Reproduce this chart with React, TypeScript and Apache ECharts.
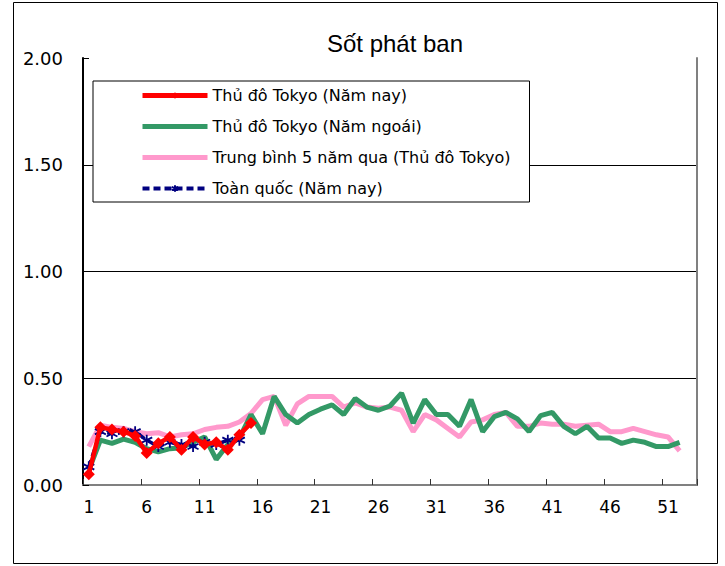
import React, { useEffect, useRef } from "react";
import * as echarts from "echarts";

const weeks: string[] = Array.from({ length: 53 }, (_, i) => String(i + 1));

const seriesNames = [
  "Thủ đô Tokyo (Năm nay)",
  "Thủ đô Tokyo (Năm ngoái)",
  "Trung bình 5 năm qua (Thủ đô Tokyo)",
  "Toàn quốc (Năm nay)",
];

const tokyoThisYear = [0.05, 0.27, 0.26, 0.25, 0.23, 0.15, 0.195, 0.225, 0.165, 0.225, 0.19, 0.2, 0.165, 0.235, 0.29];

const tokyoLastYear = [
  0.07, 0.21, 0.195, 0.215, 0.2, 0.17, 0.155, 0.17, 0.175, 0.2,
  0.225, 0.12, 0.19, 0.22, 0.33, 0.24, 0.415, 0.33, 0.29, 0.33,
  0.355, 0.375, 0.33, 0.405, 0.365, 0.35, 0.37, 0.43, 0.29, 0.4,
  0.33, 0.33, 0.275, 0.4, 0.25, 0.32, 0.34, 0.31, 0.25, 0.325,
  0.34, 0.275, 0.24, 0.275, 0.22, 0.22, 0.195, 0.21, 0.2, 0.18,
  0.18, 0.2,
];

const fiveYearAvg = [
  0.18, 0.28, 0.27, 0.265, 0.25, 0.24, 0.245, 0.225, 0.235, 0.24,
  0.26, 0.27, 0.275, 0.295, 0.335, 0.4, 0.415, 0.28, 0.38, 0.415,
  0.415, 0.415, 0.365, 0.385, 0.365, 0.36, 0.365, 0.35, 0.25, 0.33,
  0.305, 0.265, 0.225, 0.295, 0.305, 0.33, 0.34, 0.275, 0.275, 0.29,
  0.285, 0.285, 0.275, 0.28, 0.285, 0.25, 0.25, 0.265, 0.25, 0.235,
  0.225, 0.16,
];

const nationalThisYear = [0.085, 0.25, 0.24, 0.25, 0.25, 0.21, 0.18, 0.2, 0.19, 0.18, 0.2, 0.19, 0.21, 0.21];

const yTicks = { min: 0, max: 2, interval: 0.5 };

const labelFont = "'DejaVu Sans', sans-serif";

const RED = "#ff0000";
const GREEN = "#339966";
const PINK = "#ff99cc";
const NAVY = "#000080";

const hiddenMarker = { color: "rgba(0,0,0,0)", borderWidth: 0, opacity: 0 };

export default function App() {
  const ref = useRef<HTMLDivElement>(null);
  useEffect(() => {
    if (!ref.current) return;
    const chart = echarts.init(ref.current, undefined, { renderer: "svg" });
    chart.setOption({
      animation: false,
      backgroundColor: "#ffffff",
      title: {
        text: "Sốt phát ban",
        left: 390,
        top: 26,
        textAlign: "center",
        textStyle: {
          fontFamily: "'Liberation Sans', Arial, sans-serif",
          fontSize: 24,
          fontWeight: "normal",
          color: "#000",
        },
      },
      graphic: [
        {
          type: "rect",
          shape: { x: 13.5, y: 2.5, width: 704, height: 561 },
          style: { fill: "none", stroke: "#000", lineWidth: 1 },
          silent: true,
        },
      ],
      legend: {
        orient: "vertical",
        left: 93,
        top: 81,
        padding: [6, 19, 5, 47],
        itemWidth: 65,
        itemHeight: 8,
        itemGap: 14,
        backgroundColor: "#fff",
        borderColor: "#000",
        borderWidth: 1,
        data: [
          { name: seriesNames[0], lineStyle: { width: 5 } },
          { name: seriesNames[1], lineStyle: { width: 5 }, itemStyle: hiddenMarker },
          { name: seriesNames[2], lineStyle: { width: 5 }, itemStyle: hiddenMarker },
          { name: seriesNames[3], lineStyle: { width: 4 } },
        ],
        textStyle: {
          fontFamily: labelFont,
          fontSize: 16,
          color: "#000",
          lineHeight: 17,
        },
      },
      grid: { left: 83, top: 58, right: 28, bottom: 81, containLabel: false },
      xAxis: [
        {
          type: "category",
          data: weeks,
          boundaryGap: true,
          axisLine: { lineStyle: { color: "#000", width: 2 } },
          axisTick: { show: true, inside: true, length: 6, interval: 4, lineStyle: { color: "#333", width: 1 } },
          axisLabel: {
            interval: 4,
            margin: 13,
            fontFamily: labelFont,
            fontSize: 17,
            color: "#000",
          },
          splitLine: { show: false },
        },
        {
          type: "category",
          data: weeks,
          position: "top",
          axisLine: { lineStyle: { color: "#808080", width: 2 } },
          axisTick: { show: false },
          axisLabel: { show: false },
          splitLine: { show: false },
        },
      ],
      yAxis: [
        {
          type: "value",
          min: yTicks.min,
          max: yTicks.max,
          interval: yTicks.interval,
          axisLine: { show: true, lineStyle: { color: "#000", width: 2 } },
          axisTick: { show: true, inside: true, length: 6, lineStyle: { color: "#000" } },
          axisLabel: {
            margin: 20,
            fontFamily: labelFont,
            fontSize: 18,
            color: "#000",
            formatter: (v: number) => v.toFixed(2),
          },
          splitLine: { show: true, showMaxLine: false, lineStyle: { color: "#000", width: 1 } },
        },
        {
          type: "value",
          min: yTicks.min,
          max: yTicks.max,
          interval: yTicks.interval,
          position: "right",
          axisLine: { show: true, lineStyle: { color: "#808080", width: 2 } },
          axisTick: { show: false },
          axisLabel: { show: false },
          splitLine: { show: false },
        },
      ],
      series: [
        {
          name: seriesNames[0],
          type: "line",
          data: tokyoThisYear,
          z: 6,
          symbol: "diamond",
          symbolSize: 12,
          showAllSymbol: true,
          color: RED,
          lineStyle: { color: RED, width: 4.5 },
          itemStyle: { color: RED },
        },
        {
          name: seriesNames[1],
          type: "line",
          data: tokyoLastYear,
          z: 4,
          symbol: "none",
          color: GREEN,
          lineStyle: { color: GREEN, width: 5 },
        },
        {
          name: seriesNames[2],
          type: "line",
          data: fiveYearAvg,
          z: 3,
          symbol: "none",
          color: PINK,
          lineStyle: { color: PINK, width: 5 },
        },
        {
          name: seriesNames[3],
          type: "line",
          data: nationalThisYear,
          z: 5,
          symbol: "path://M5,0 L5,10 M0.7,2.5 L9.3,7.5 M0.7,7.5 L9.3,2.5",
          symbolSize: 11,
          showAllSymbol: true,
          color: NAVY,
          lineStyle: { color: NAVY, width: 3.5, type: [7, 4] },
          itemStyle: { color: NAVY, borderColor: NAVY, borderWidth: 1.8 },
        },
      ],
    });
    return () => chart.dispose();
  }, []);
  return (
    <div
      ref={ref}
      style={{ position: "fixed", left: 0, top: 0, width: 725, height: 566 }}
    />
  );
}
